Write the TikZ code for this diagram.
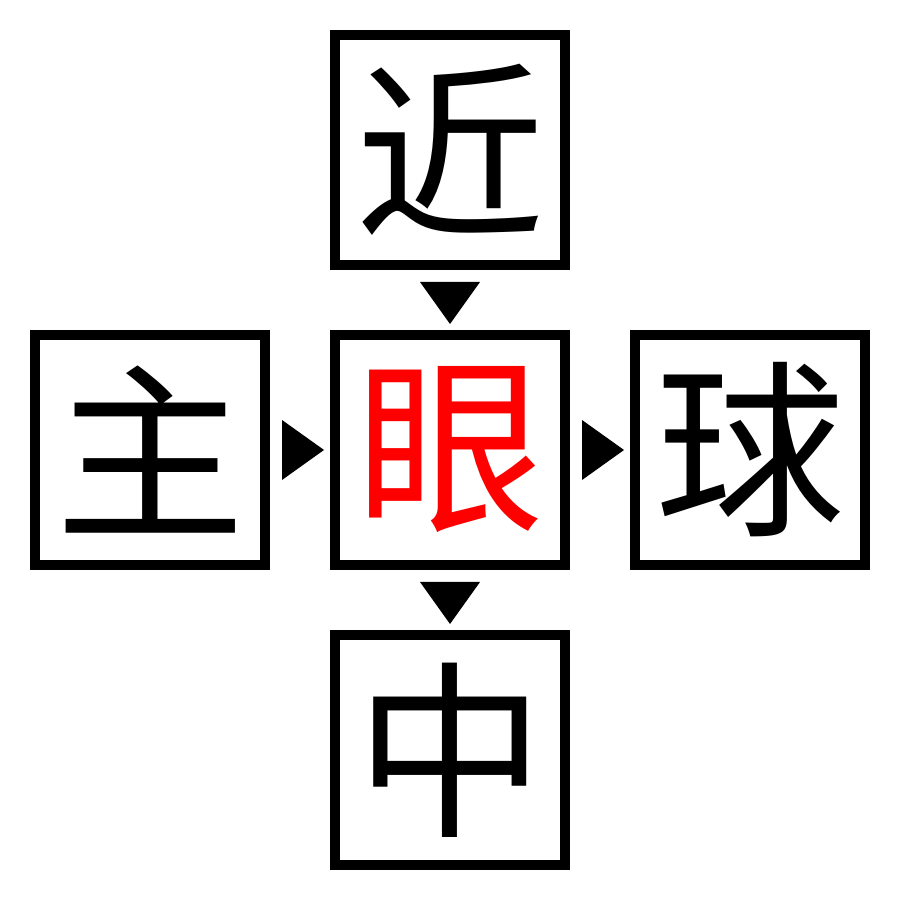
\documentclass[tikz,border=0pt]{standalone}
\usepackage{fontspec}
\newfontfamily\cjk{Noto Sans CJK SC}
\usetikzlibrary{positioning, calc}

\begin{document}
\begin{tikzpicture}[
		kanji/.style = {draw, line width = 1mm, minimum size = 2.3cm, inner sep = 0pt, font = \cjk\fontsize{54}{54}\selectfont},
		tri/.pic = {\fill (-0.3,0.18) -- (0.3,0.18) -- (0,-0.24) -- cycle;},
		node distance = 0.6cm]
		\useasboundingbox (0,0) rectangle (9,9);
		\node[kanji, text = red] (eye) at (4.5,4.5) {眼};
		\node[kanji, above = of eye] (near) {近};
		\node[kanji, left = of eye] (main) {主};
		\node[kanji, right = of eye] (ball) {球};
		\node[kanji, below = of eye] (mid) {中};
		% markers between the boxes
		\path ($(near.south)!0.5!(eye.north)$) pic {tri};
		\path ($(eye.south)!0.5!(mid.north)$) pic {tri};
		\path ($(main.east)!0.5!(eye.west)$) pic[rotate = 90] {tri};
		\path ($(eye.east)!0.5!(ball.west)$) pic[rotate = 90] {tri};
	\end{tikzpicture}
\end{document}
